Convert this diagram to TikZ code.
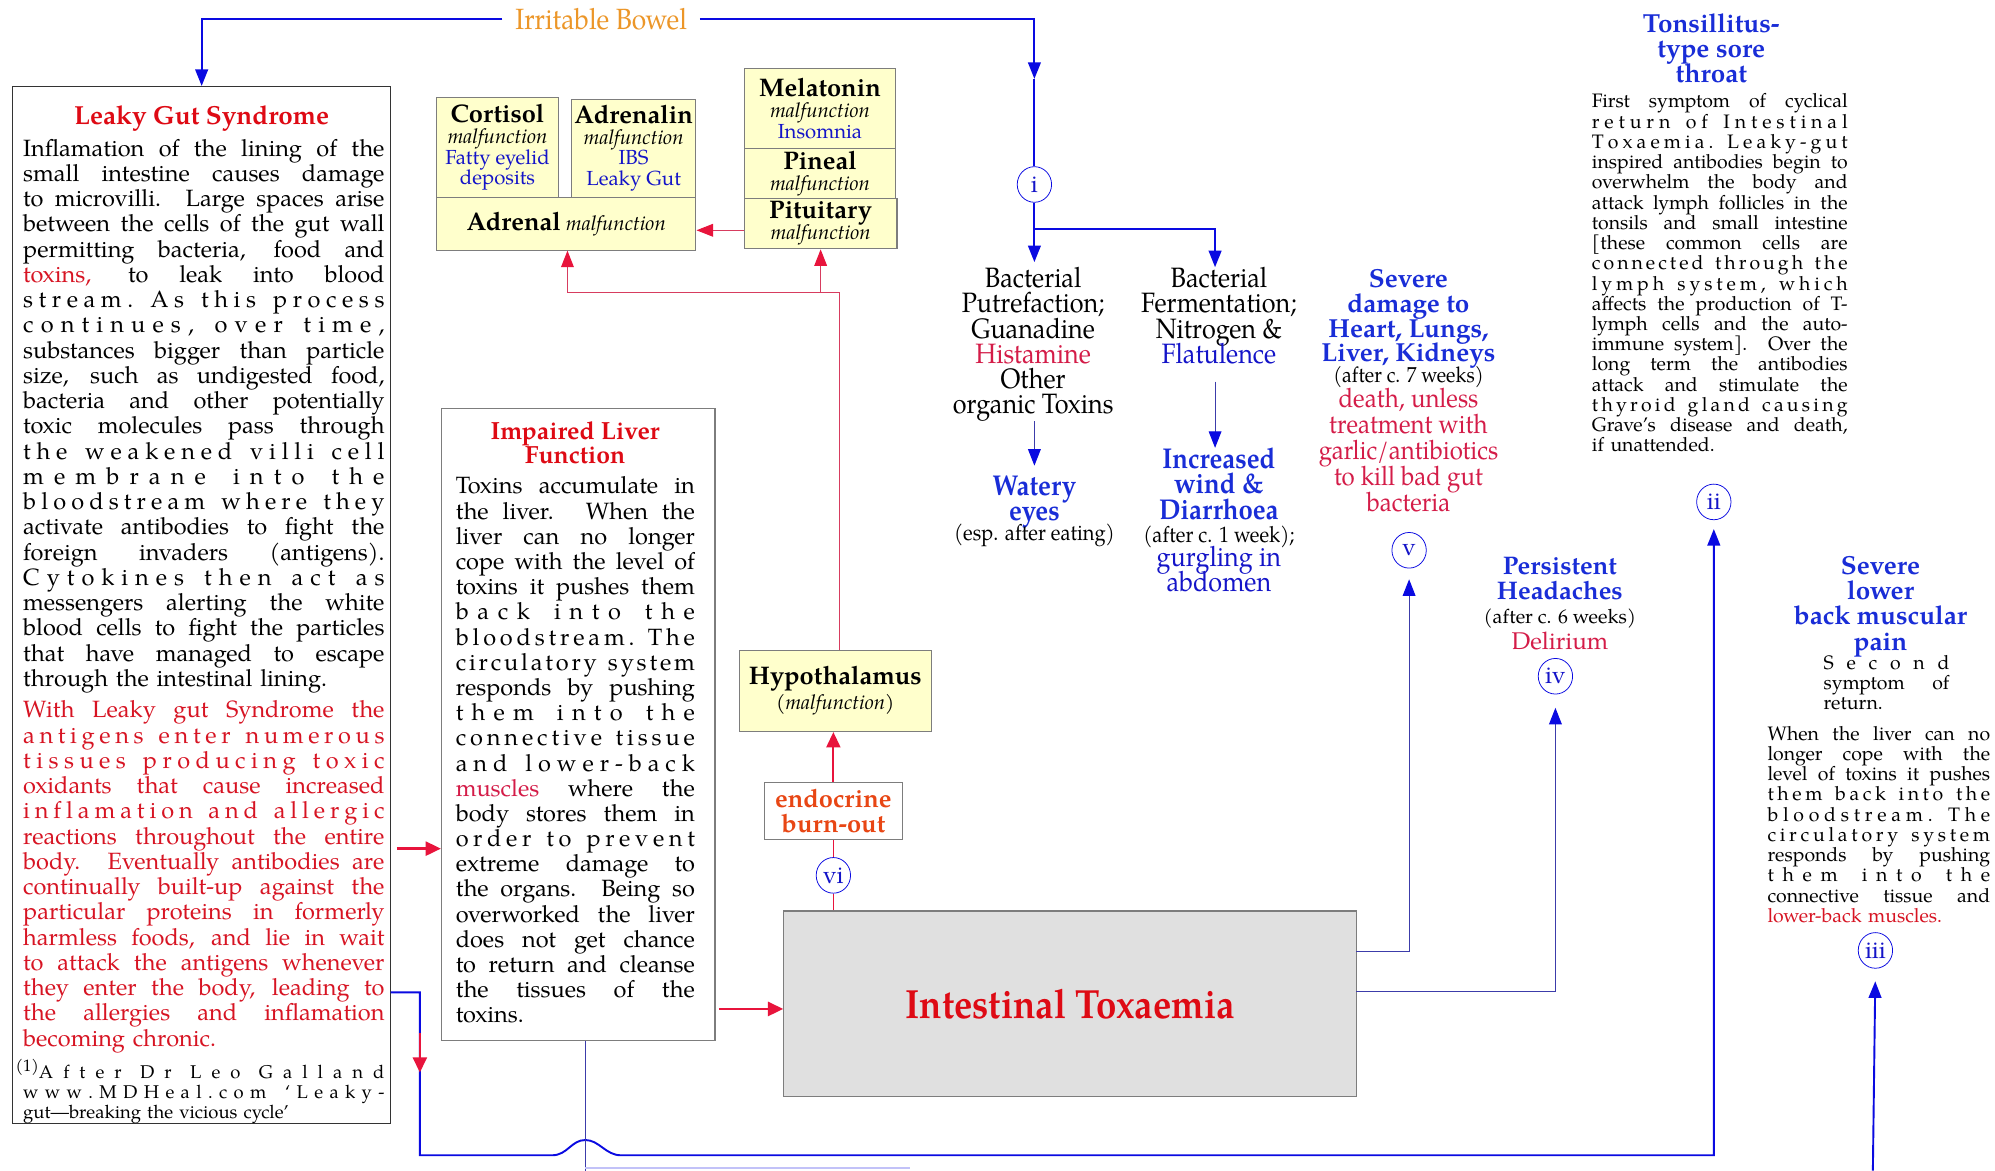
\documentclass[tikz,border=0pt]{standalone}
\usepackage{fontspec}
\setmainfont{TeX Gyre Pagella}
\newfontfamily\condf[FakeStretch=0.9]{TeX Gyre Pagella}
\usetikzlibrary{arrows.meta,shapes.geometric}
\definecolor{cab}{RGB}{10,10,225}
\definecolor{cnv}{RGB}{60,60,170}
\definecolor{car}{RGB}{232,20,60}
\definecolor{cthr}{RGB}{215,60,95}
\definecolor{cttl}{RGB}{222,10,20}
\definecolor{ccrim}{RGB}{212,28,72}
\definecolor{ctxr}{RGB}{215,20,35}
\definecolor{ctb}{RGB}{20,20,200}
\definecolor{clb}{RGB}{25,45,215}
\definecolor{corg}{RGB}{236,150,40}
\definecolor{cendo}{RGB}{232,70,20}
\definecolor{cyel}{RGB}{255,255,204}
\definecolor{cgf}{RGB}{224,224,224}
\definecolor{cgb}{RGB}{125,125,125}
\newlength\jw
\newcommand\fs[2]{\fontsize{#1}{#2}\selectfont\lineskiplimit=-50pt\lineskip=0pt\relax}
\newcommand\jl[1]{\noindent\hbox to\jw{\spaceskip=0pt\xspaceskip=0pt\relax #1}\\}
\newcommand\lsgap{\hskip0.3pt plus 1fil\relax}
\newcommand\wsgap{\hskip4.5pt plus 2.2fil\relax}
\def\lsa#1#2\lsend{#1\ifx\relax#2\relax\else\lsgap\lsa#2\lsend\fi}
\def\lsline#1 #2\lsstop{\lsa#1\lsend\ifx\relax#2\relax\else\wsgap\lsline#2\lsstop\fi}
\newcommand\jls[1]{\noindent\hbox to\jw{\lsline#1 \lsstop}\\}
\tikzset{
  parab/.style={text width=#1, align=left, inner sep=0pt, anchor=north west},
  ctext/.style={align=center, inner sep=0pt, anchor=north},
  btext/.style={inner sep=0pt, anchor=base},
  lbox/.style={draw=black!80, line width=0.9pt, fill=white, inner sep=0pt},
  ybox/.style={draw=cgb, line width=0.8pt, fill=cyel, inner sep=0pt, align=center},
  circ/.style={ellipse, draw=cab, line width=0.6pt, minimum width=27pt, minimum height=28pt,
    inner sep=0pt, text=ctb, font=\fs{19}{19}},
  barr/.style={draw=cab, line width=1.5pt, -{Triangle[width=10pt,length=13pt]}},
  bln/.style={draw=cab, line width=1.5pt},
  thinb/.style={draw=cnv, line width=0.8pt, -{Triangle[width=10pt,length=13pt,color=cab]}},
  rarr/.style={draw=car, line width=2pt, -{Triangle[width=11pt,length=12pt]}},
  rmed/.style={draw=car, line width=1.3pt},
  thrarr/.style={draw=cthr, line width=0.8pt, -{Triangle[width=10pt,length=13pt,color=car]}},
  thrl/.style={draw=cthr, line width=0.8pt}
}
\begin{document}
\begin{tikzpicture}[x=1pt,y=-1pt]
\useasboundingbox (0,0) rectangle (1568,920);
\fill[white] (0,0) rectangle (1568,920);

% ---------- boxes ----------
\node[lbox, minimum width=297pt, minimum height=815pt] (lgbox) at (158.5,475.5) {};
\node[lbox, draw=cgb, minimum width=215pt, minimum height=497pt] (liver) at (454.5,569.5) {};
\node[ybox, minimum width=96pt, minimum height=78pt, font=\fs{16}{16.3}] (cort) at (391,116)
  {{\fs{20}{16.3}\bfseries Cortisol}\\\textit{malfunction}\\\textcolor{ctb}{Fatty eyelid}\\\textcolor{ctb}{deposits}};
\node[ybox, minimum width=98pt, minimum height=77pt, font=\fs{16}{16.3}] (adrl) at (498,116.5)
  {{\fs{20}{16.3}\bfseries Adrenalin}\\\textit{malfunction}\\\textcolor{ctb}{IBS}\\\textcolor{ctb}{Leaky Gut}};
\node[ybox, minimum width=204pt, minimum height=42pt, font=\fs{16}{16}] (adr) at (445,176)
  {{\fs{20}{16}\bfseries Adrenal} \textit{malfunction}};
\node[ybox, minimum width=119pt, minimum height=63pt, font=\fs{16}{16.5}] (mela) at (644.5,85.5)
  {{\fs{20}{16.5}\bfseries Melatonin}\\\textit{malfunction}\\\textcolor{ctb}{Insomnia}};
\node[ybox, minimum width=119pt, minimum height=39pt, font=\fs{16}{17}] (pine) at (644.5,136.5)
  {{\fs{20}{17}\bfseries Pineal}\\\textit{malfunction}};
\node[ybox, minimum width=120pt, minimum height=39pt, font=\fs{16}{17}] (pitu) at (645,175.5)
  {{\fs{20}{17}\bfseries Pituitary}\\\textit{malfunction}};
\node[ybox, minimum width=151pt, minimum height=64pt, font=\fs{16}{20}] (hypo) at (656.5,543)
  {{\fs{20}{20}\bfseries Hypothalamus}\\\textit{(malfunction)}};
\node[ybox, fill=white, minimum width=108pt, minimum height=45pt, font=\bfseries\fs{20}{19}, text=cendo] (endo) at (655,637.5)
  {endocrine\\burn-out};
\node[ybox, fill=cgf, minimum width=450pt, minimum height=146pt, font=\condf\bfseries\fs{32}{32}, text=cttl] (itbox) at (841,789)
  {Intestinal Toxaemia};

% ---------- circles ----------
\node[circ] (ci) at (813,145) {i};
\node[circ] (cii) at (1347,394.5) {ii};
\node[circ] (ciii) at (1474,747) {iii};
\node[circ] (civ) at (1222.5,531.5) {iv};
\node[circ] (cv) at (1107.5,432.5) {v};
\node[circ] (cvi) at (655,688) {vi};

% ---------- top label ----------
\node[font=\condf\fs{23}{23}, text=corg, inner xsep=10pt, inner ysep=0pt] (ib) at (472.5,15) {Irritable Bowel};

% ---------- left box text ----------
\node[btext, font=\bfseries\fs{20.5}{20}, text=cttl] (lgt) at (158.5,98) {Leaky Gut Syndrome};
\node[parab=284pt, font=\fs{18.5}{19.85}] (lgp1) at (18,109) {\global\jw=284pt\noindent\rule{0pt}{13.5pt}%
\jl{Inflamation of the lining of the}
\jl{small intestine causes damage}
\jl{to microvilli. Large spaces arise}
\jl{between the cells of the gut wall}
\jl{permitting bacteria, food and}
\jl{\textcolor{ctxr}{toxins,} to leak into blood}
\jls{stream. As this process}
\jls{continues, over time,}
\jl{substances bigger than particle}
\jl{size, such as undigested food,}
\jl{bacteria and other potentially}
\jl{toxic molecules pass through}
\jls{the weakened villi cell}
\jls{membrane into the}
\jls{bloodstream where they}
\jl{activate antibodies to fight the}
\jl{foreign invaders (antigens).}
\jls{Cytokines then act as}
\jl{messengers alerting the white}
\jl{blood cells to fight the particles}
\jl{that have managed to escape}
\noindent through the intestinal lining.};
\node[parab=284pt, font=\fs{18.5}{19.85}, text=ctxr] (lgp2) at (18,550.5) {\global\jw=284pt\noindent\rule{0pt}{13.5pt}%
\jl{With Leaky gut Syndrome the}
\jls{antigens enter numerous}
\jls{tissues producing toxic}
\jl{oxidants that cause increased}
\jls{inflamation and allergic}
\jl{reactions throughout the entire}
\jl{body. Eventually antibodies are}
\jl{continually built-up against the}
\jl{particular proteins in formerly}
\jl{harmless foods, and lie in wait}
\jl{to attack the antigens whenever}
\jl{they enter the body, leading to}
\jl{the allergies and inflamation}
\noindent becoming chronic.};
\node[parab=284pt, font=\fs{14.5}{16}] (ft) at (18,832.5) {\global\jw=284pt\noindent\rule{0pt}{10.5pt}%
\jl{\hspace{-6pt}\raisebox{5pt}{\fs{13}{13}(1)}A f t e r\quad D r\quad L e o\quad G a l l a n d}
\jls{www.MDHeal.com ‘Leaky-}
\noindent gut—breaking the vicious cycle’};

% ---------- liver text ----------
\node[ctext, font=\bfseries\fs{19.5}{19}, text=cttl] (lt) at (452,330.5) {\rule{0pt}{14.5pt}Impaired Liver\\Function};
\node[parab=188pt, font=\fs{18.5}{19.8}] (lp) at (358,374.5) {\global\jw=188pt\noindent\rule{0pt}{13.5pt}%
\jl{Toxins accumulate in}
\jl{the liver. When the}
\jl{liver can no longer}
\jl{cope with the level of}
\jl{toxins it pushes them}
\jls{back into the}
\jls{bloodstream. The}
\jls{circulatory system}
\jl{responds by pushing}
\jls{them into the}
\jls{connective tissue}
\jls{and lower-back}
\jl{\textcolor{ccrim}{muscles} where the}
\jl{body stores them in}
\jls{order to prevent}
\jl{extreme damage to}
\jl{the organs. Being so}
\jl{overworked the liver}
\jl{does not get chance}
\jl{to return and cleanse}
\jl{the tissues of the}
\noindent toxins.};

% ---------- middle column ----------
\node[ctext, font=\condf\fs{22}{19.8}] (bp) at (812,209.5) {\rule{0pt}{16.5pt}Bacterial\\Putrefaction;\\Guanadine\\\textcolor{ccrim}{Histamine}\\Other\\organic Toxins};
\node[ctext, font=\condf\fs{22}{19.8}] (bfm) at (958,209.5) {\rule{0pt}{16.5pt}Bacterial\\Fermentation;\\Nitrogen \&\\\textcolor{ctb}{Flatulence}};
\node[ctext, font=\condf\bfseries\fs{22.5}{20}, text=clb] (we) at (813,372.5) {\rule{0pt}{16.5pt}Watery\\eyes};
\node[btext, font=\condf\fs{17.5}{17}] (we2) at (813,425) {(esp. after eating)};
\node[ctext, font=\condf\bfseries\fs{22.5}{20}, text=clb] (iw) at (958,351.5) {\rule{0pt}{16.5pt}Increased\\wind \&\\Diarrhoea};
\node[btext, font=\condf\fs{17.5}{17}] (iw2) at (958,426) {(after c. 1 week);};
\node[ctext, font=\condf\fs{22}{20}, text=ctb] (iw3) at (958,428.5) {\rule{0pt}{16.5pt}gurgling in\\abdomen};
\node[ctext, font=\bfseries\fs{20.5}{19.6}, text=clb] (sd1) at (1107,210.5) {\rule{0pt}{15pt}Severe\\damage to\\Heart, Lungs,\\Liver, Kidneys};
\node[btext, font=\condf\fs{17}{17}] (sd2) at (1107,301) {(after c. 7 weeks)};
\node[ctext, font=\condf\fs{21}{20.5}, text=ccrim] (sd3) at (1107,304.5) {\rule{0pt}{15.5pt}death, unless\\treatment with\\garlic/antibiotics\\to kill bad gut\\bacteria};
\node[ctext, font=\bfseries\fs{20}{20}, text=clb] (ph) at (1226,436) {\rule{0pt}{15pt}Persistent\\Headaches};
\node[btext, font=\fs{15.5}{15.5}] (ph2) at (1226,490) {(after c. 6 weeks)};
\node[btext, font=\fs{19}{19}, text=ccrim] (ph3) at (1226,510.5) {Delirium};

% ---------- right column ----------
\node[ctext, font=\bfseries\fs{20.5}{20}, text=clb] (tt) at (1345,10) {\rule{0pt}{15pt}Tonsillitus-\\type sore\\throat};
\node[parab=201pt, font=\fs{15.3}{15.9}] (tp) at (1251,73.5) {\global\jw=201pt\noindent\rule{0pt}{11pt}%
\jl{First symptom of cyclical}
\jls{return of Intestinal}
\jls{Toxaemia. Leaky-gut}
\jl{inspired antibodies begin to}
\jl{overwhelm the body and}
\jl{attack lymph follicles in the}
\jl{tonsils and small intestine}
\jl{[these common cells are}
\jls{connected through the}
\jls{lymph system, which}
\jl{affects the production of T-}
\jl{lymph cells and the auto-}
\jl{immune system]. Over the}
\jl{long term the antibodies}
\jl{attack and stimulate the}
\jls{thyroid gland causing}
\jl{Grave’s disease and death,}
\noindent if unattended.};
\node[ctext, font=\bfseries\fs{20.5}{20}, text=clb] (sb) at (1478,436) {\rule{0pt}{15pt}Severe\\lower\\back muscular\\pain};
\node[parab=99pt, font=\fs{15.3}{16}] (sbp1) at (1433,514.5) {\global\jw=99pt\noindent\rule{0pt}{11pt}%
\jls{Second}
\jl{symptom of}
\noindent return.};
\node[parab=175pt, font=\fs{15.3}{15.9}] (sbp2) at (1389,570.5) {\global\jw=175pt\noindent\rule{0pt}{11pt}%
\jl{When the liver can no}
\jl{longer cope with the}
\jl{level of toxins it pushes}
\jls{them back into the}
\jls{bloodstream. The}
\jls{circulatory system}
\jl{responds by pushing}
\jls{them into the}
\jl{connective tissue and}
\noindent\textcolor{ctxr}{lower-back muscles.}};

% ---------- coordinates ----------
\coordinate (c1) at (813,62);
\coordinate (j1) at (813,180);
\coordinate (t1) at (813,206);
\coordinate (t2) at (955,210);
\coordinate (s1) at (813,331);
\coordinate (t3) at (813,366);
\coordinate (s2) at (955,300);
\coordinate (t4) at (955,352);
\coordinate (o1) at (1066,748);
\coordinate (o2) at (1066,779);
\coordinate (o3) at (307,780);
\coordinate (lv1) at (460,818);
\coordinate (lv2) at (460,920);
\coordinate (fl1) at (460,918);
\coordinate (fl2) at (715,918);
\coordinate (r1) at (330,812);
\coordinate (r2) at (330,843);
\coordinate (b1) at (1472,920);
\coordinate (r3) at (312,667);
\coordinate (r4) at (565,793);
\coordinate (h1) at (660,511);
\coordinate (a3) at (446,197);
\coordinate (j2) at (645,230);
\coordinate (p3) at (645,196);
\coordinate (p4) at (585,181);

% ---------- blue connectors ----------
\draw[barr] (ib.west) -| (lgbox.north);
\draw[barr] (ib.east) -| (c1);
\draw[bln] (c1) -- (ci.north);
\draw[barr] (ci.south) -- (t1);
\draw[barr] (j1) -| (t2);
\draw[thinb] (s1) -- (t3);
\draw[thinb] (s2) -- (t4);
\draw[thinb, shorten >=8.5pt] (o1) -| (cv.south);
\draw[thinb, shorten >=10.5pt] (o2) -| (civ.south);
\draw[barr, shorten >=7pt] (o3) -- (330,780) -- (330,908) -- (434,908)
  .. controls (446,908) and (449,896) .. (460,896)
  .. controls (471,896) and (476,908) .. (488,908) -| (cii.south);
\draw[draw=cnv, line width=1.2pt] (lv1) -- (lv2);
\draw[draw=cab!25, line width=1pt] (fl1) -- (fl2);
\draw[barr, shorten >=10pt] (b1) -- (ciii.south);

% ---------- red connectors ----------
\draw[rarr] (r1) -- (r2);
\draw[rarr] (r3) -- (r3 -| liver.west);
\draw[rarr] (r4) -- (r4 -| itbox.west);
\draw[rmed] (itbox.north -| cvi) -- (cvi.south);
\draw[rmed] (cvi.north) -- (endo.south -| cvi);
\draw[rarr, line width=1.5pt] (endo.north) -- (endo.north |- hypo.south);
\draw[thrarr] (h1) -- (660,230) -| (a3);
\draw[thrarr] (j2) -- (p3);
\draw[thrarr] (p4) -- (p4 -| adr.east);
\end{tikzpicture}
\end{document}
